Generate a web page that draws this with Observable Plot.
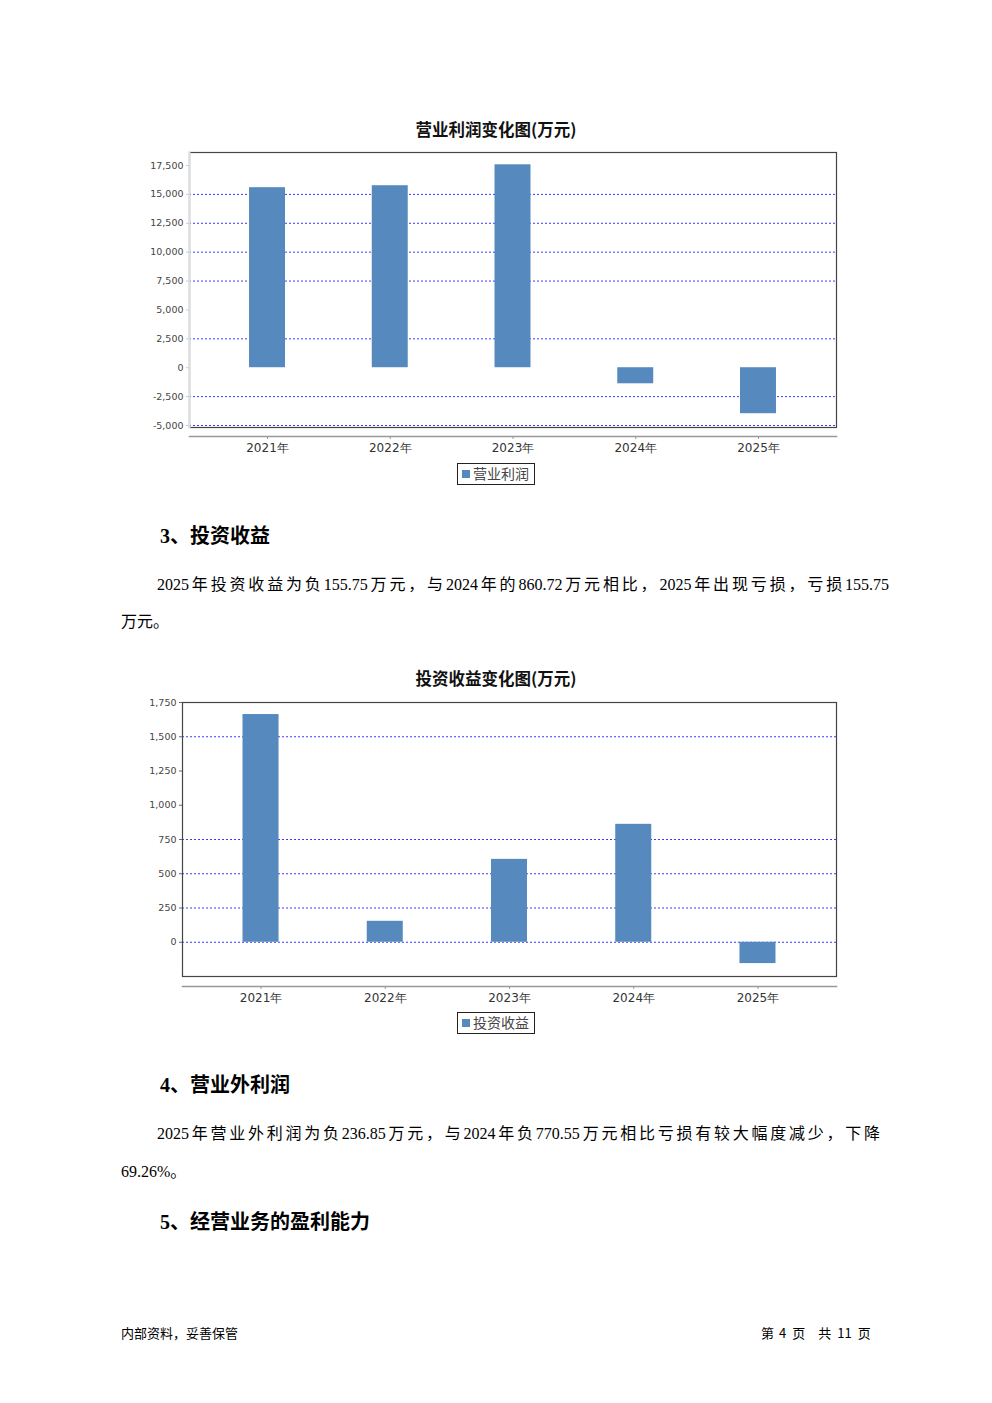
<!DOCTYPE html>
<html>
<head>
<meta charset="utf-8">
<script src="https://cdn.jsdelivr.net/npm/d3@7"></script>
<script src="https://cdn.jsdelivr.net/npm/@observablehq/plot@0.6"></script>
<style>
  html, body { margin: 0; padding: 0; background: #fff; }
  body { width: 992px; height: 1403px; position: relative; overflow: hidden; }
  .abs { position: absolute; white-space: nowrap; }
  .ctitle { left: 0; width: 992px; text-align: center; font-family: "Noto Sans CJK SC", sans-serif; font-weight: 700; font-size: 16.5px; line-height: 20px; color: #111; }
  .legend { box-sizing: border-box; border: 1.5px solid #222; width: 78px; height: 22px; font-family: "Noto Sans CJK SC", sans-serif; font-size: 14px; line-height: 19px; color: #444; }
  .legend .sw { position: absolute; left: 4px; top: 6px; width: 8px; height: 8px; background: #5689bd; }
  .legend .lt { position: absolute; left: 15px; top: 0px; }
  .head { font-family: "Liberation Serif", "Noto Sans CJK SC", serif; font-weight: 700; font-size: 20px; line-height: 24px; color: #000; }
  .para { font-family: "Liberation Serif", "Noto Sans CJK SC", serif; font-size: 16px; line-height: 20px; color: #000; }
  .just { text-align: justify; text-align-last: justify; }
  .foot { font-family: "Noto Sans CJK SC", sans-serif; font-size: 13px; line-height: 16px; color: #000; }
  .foot span { display: inline-block; }
  .chart { position: absolute; }
</style>
</head>
<body>
<div class="abs ctitle" style="top:119px;">营业利润变化图(万元)</div>
<div id="c1" class="chart" style="left:120px; top:140px;"></div>
<div class="abs legend" style="left:457px; top:463px;"><span class="sw"></span><span class="lt">营业利润</span></div>

<div class="abs head" style="left:160px; top:524px;">3、投资收益</div>
<div class="abs para just" style="left:157px; top:575px; width:732px;">2025年投资收益为负155.75万元，与2024年的860.72万元相比，2025年出现亏损，亏损155.75</div>
<div class="abs para" style="left:121px; top:612px;">万元。</div>

<div class="abs ctitle" style="top:668px;">投资收益变化图(万元)</div>
<div id="c2" class="chart" style="left:120px; top:690px;"></div>
<div class="abs legend" style="left:457px; top:1012px;"><span class="sw"></span><span class="lt">投资收益</span></div>

<div class="abs head" style="left:160px; top:1073px;">4、营业外利润</div>
<div class="abs para just" style="left:157px; top:1124px; width:723px;">2025年营业外利润为负236.85万元，与2024年负770.55万元相比亏损有较大幅度减少，下降</div>
<div class="abs para" style="left:121px; top:1162px;">69.26%。</div>

<div class="abs head" style="left:160px; top:1210px;">5、经营业务的盈利能力</div>

<div class="abs foot" style="left:121px; top:1325px;">内部资料，妥善保管</div>
<div class="abs foot" style="left:761px; top:1325px;"><span>第</span><span style="margin-left:5px">4</span><span style="margin-left:6px">页</span><span style="margin-left:13px">共</span><span style="margin-left:6px">11</span><span style="margin-left:6px">页</span></div>

<script>
// ---- data ----
const years = ["2021年", "2022年", "2023年", "2024年", "2025年"];
const operatingProfit = [15580, 15750, 17560, -1390, -3980];
const investmentIncome = [1662, 153, 605, 860.72, -155.75];

const yTicks1 = [-5000, -2500, 0, 2500, 5000, 7500, 10000, 12500, 15000, 17500];
const yGrid1 = [-5000, -2500, 2500, 7500, 10000, 12500, 15000];
const yDomain1 = [-5173, 18625];

const yTicks2 = [0, 250, 500, 750, 1000, 1250, 1500, 1750];
const yGrid2 = [0, 250, 500, 750, 1500, 1750];
const yDomain2 = [-250, 1750];

const fmt = d => d3.format(",")(d).replace("\u2212", "-");

function makeChart(values, yTicks, yGrid, yDomain, opts) {
  const rows = years.map((y, i) => ({year: y, value: values[i]}));
  const marks = [
    Plot.ruleY(yGrid, {stroke: "#3a3aff", strokeDasharray: "2,2", strokeWidth: 1}),
    Plot.barY(rows, {x: "year", y: "value", fill: "#5689bd"}),
    Plot.frame({insetBottom: opts.gap, stroke: "#444", strokeWidth: 1.2}),
  ];
  if (opts.lightLeft) marks.push(Plot.frame({anchor: "left", insetBottom: opts.gap, stroke: "#ddd", strokeWidth: 2}));
  marks.push(
    Plot.frame({anchor: "bottom", stroke: "#999", strokeWidth: 1.5}),
    Plot.axisY({ticks: yTicks, tickSize: 3, tickPadding: 3, tickFormat: fmt, label: null, stroke: opts.lightLeft ? "#ccc" : "#666", fill: "#444", fontSize: 9.5}),
    Plot.axisX({tickSize: 3, tickPadding: 4, label: null, fontSize: 12, fill: "#333", stroke: "#999"})
  );
  return Plot.plot({
    width: 730,
    height: 330,
    marginLeft: opts.ml,
    marginRight: 14,
    marginTop: 12,
    marginBottom: 34,
    style: {fontFamily: "DejaVu Sans", fontSize: "9.5px", color: "#444", background: "transparent"},
    x: {domain: years, paddingInner: opts.pi, paddingOuter: opts.po, round: false, axis: null, label: null},
    y: {domain: yDomain, insetBottom: opts.gap, axis: null, label: null},
    marks
  });
}

document.getElementById("c1").appendChild(
  makeChart(operatingProfit, yTicks1, yGrid1, yDomain1, {ml: 69, gap: 9, pi: 0.707, po: 0.489, lightLeft: true})
);
document.getElementById("c2").appendChild(
  makeChart(investmentIncome, yTicks2, yGrid2, yDomain2, {ml: 62, gap: 10, pi: 0.71, po: 0.487, lightLeft: false})
);
</script>
</body>
</html>
